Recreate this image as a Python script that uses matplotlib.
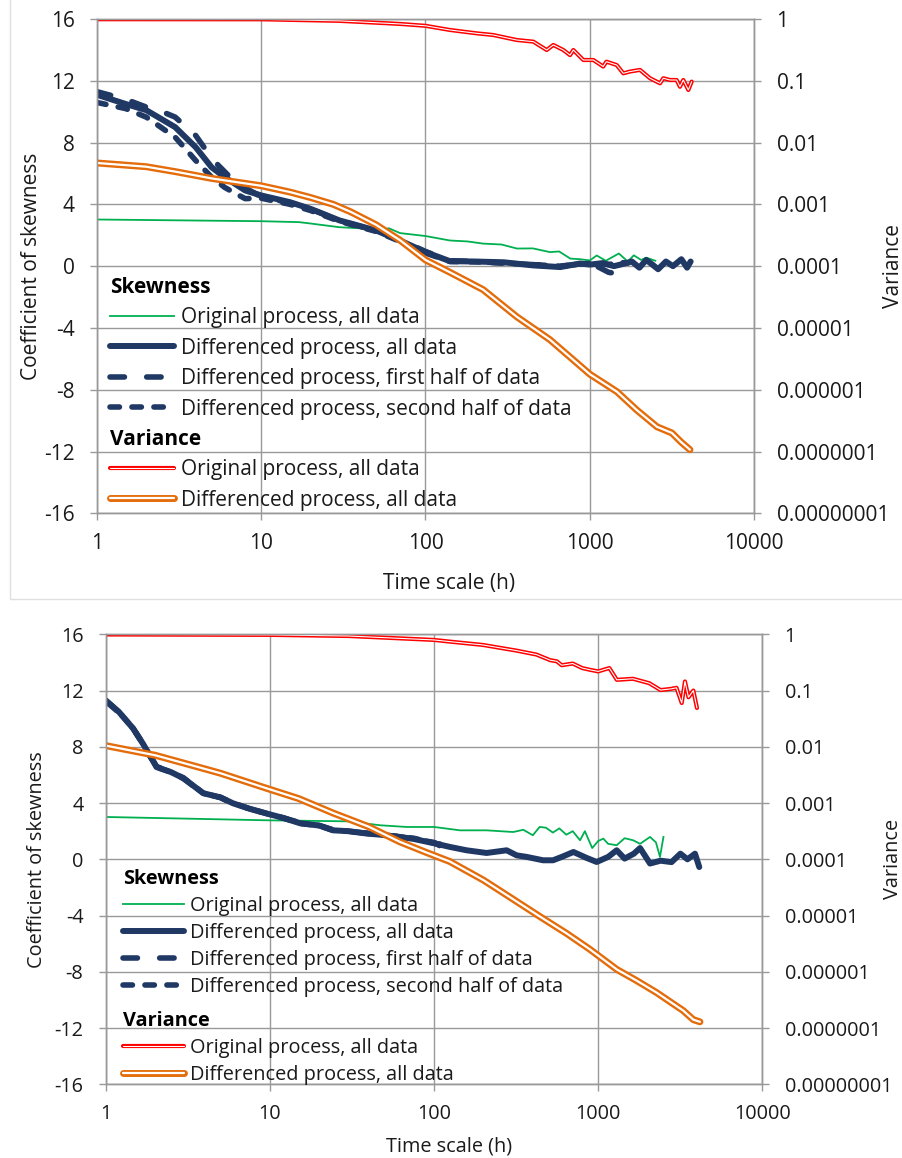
import matplotlib
matplotlib.use('Agg')
import matplotlib.pyplot as plt
import matplotlib.patheffects as pe
from matplotlib.patches import Rectangle

plt.rcParams['font.family'] = ['Open Sans', 'DejaVu Sans']
plt.rcParams['axes.unicode_minus'] = False

# ---- axes / labels ----
time_ticks = [1, 10, 100, 1000, 10000]
time_tick_labels = ['1', '10', '100', '1000', '10000']
skew_ticks = [-16, -12, -8, -4, 0, 4, 8, 12, 16]
var_ticks = [1e-8, 1e-7, 1e-6, 1e-5, 1e-4, 1e-3, 1e-2, 1e-1, 1]
var_tick_labels = ['0.00000001', '0.0000001', '0.000001', '0.00001', '0.0001',
                   '0.001', '0.01', '0.1', '1']
skew_labels = ['Original process, all data', 'Differenced process, all data',
               'Differenced process, first half of data',
               'Differenced process, second half of data']
var_labels = ['Original process, all data', 'Differenced process, all data']

# ---- top panel ----
top_green_t = [1, 10, 17, 20, 30, 40, 50, 60, 70, 100, 141, 180, 224, 290, 360, 450,
               571, 650, 760, 870, 1000, 1100, 1250, 1500, 1700, 1850, 2050, 2200, 2500]
top_green = [3.02, 2.91, 2.85, 2.76, 2.52, 2.45, 2.31, 2.45, 2.14, 1.95, 1.66, 1.6,
             1.46, 1.4, 1.14, 1.15, 0.91, 0.95, 0.49, 0.45, 0.37, 0.69, 0.35, 0.82,
             0.3, 0.7, 0.4, 0.55, 0.35]

top_navy_t = [1, 1.5, 2, 3, 4, 5, 6, 8, 10, 15, 20, 30, 50, 70, 100, 141, 200, 300,
              450, 660, 870, 1000, 1200, 1400, 1600, 1800, 2000, 2200, 2400, 2600,
              2900, 3200, 3600, 3900, 4100]
top_navy = [11.1, 10.5, 10.1, 9.0, 7.7, 6.4, 5.76, 4.9, 4.58, 4.14, 3.71, 2.96,
            2.31, 1.66, 0.91, 0.32, 0.3, 0.25, 0.05, -0.06, 0.17, 0.1, 0.2, 0.0,
            0.15, 0.3, -0.1, 0.4, 0.1, -0.2, 0.3, 0.0, 0.45, -0.1, 0.3]

top_first_t = [1, 1.5, 2, 2.5, 3, 4, 5, 5.5, 7, 10, 15, 20, 30, 50, 70, 100, 141,
               200, 300, 450, 660, 900, 1100, 1300, 1500, 1700]
top_first = [11.3, 10.8, 10.3, 10.0, 9.65, 8.46, 7.0, 6.52, 5.4, 4.5, 4.1, 3.7,
             2.95, 2.3, 1.7, 0.95, 0.35, 0.3, 0.2, 0.1, 0.0, 0.15, 0.0, -0.4, -0.5, -0.35]

top_second_t = [1, 1.5, 2, 3, 4, 5, 6, 7, 8, 10, 15, 20, 30, 50, 70, 100, 141, 200,
                300, 450, 660, 900, 1100, 1300, 1500, 1700]
top_second = [10.6, 10.2, 9.65, 8.35, 6.84, 5.76, 5.1, 4.7, 4.37, 4.4, 4.0, 3.6,
              2.9, 2.25, 1.6, 0.85, 0.3, 0.28, 0.2, 0.1, 0.0, 0.15, 0.2, 0.1, 0.25, 0.2]

top_red_t = [1, 10, 30, 70, 100, 141, 205, 258, 359, 453, 546, 599, 689, 757, 793,
             912, 1050, 1205, 1260, 1455, 1597, 1753, 2017, 2320, 2670, 2797, 3070,
             3370, 3530, 3700, 3970, 4160]
top_red = [0.991, 0.989, 0.933, 0.832, 0.776, 0.664, 0.586, 0.551, 0.457, 0.43,
           0.315, 0.38, 0.315, 0.26, 0.315, 0.217, 0.217, 0.17, 0.204, 0.18, 0.132,
           0.141, 0.15, 0.11, 0.091, 0.11, 0.103, 0.103, 0.08, 0.103, 0.071, 0.097]

top_orange_t = [1, 2, 3, 5, 10, 15, 20, 27.5, 35, 50, 70, 100, 141, 224, 360, 571,
                905, 1000, 1460, 1930, 2560, 3150, 3600, 4060]
top_orange = [4.68e-3, 4.07e-3, 3.39e-3, 2.63e-3, 2.0e-3, 1.58e-3, 1.29e-3, 1.0e-3,
              7.59e-4, 4.68e-4, 2.63e-4, 1.26e-4, 7.94e-5, 4.17e-5, 1.51e-5, 6.46e-6,
              2.24e-6, 1.78e-6, 9.3e-7, 4.68e-7, 2.51e-7, 2.0e-7, 1.41e-7, 1.07e-7]

# ---- bottom panel ----
bot_green_t = [1, 10, 30, 47, 68, 100, 144, 209, 304, 350, 400, 440, 480, 530, 580,
               640, 700, 776, 830, 920, 1000, 1075, 1150, 1297, 1450, 1637, 1800,
               2070, 2250, 2380, 2500]
bot_green = [3.01, 2.77, 2.7, 2.42, 2.3, 2.3, 2.06, 2.06, 1.94, 2.1, 1.71, 2.3, 2.25,
             1.9, 2.2, 1.75, 2.0, 1.35, 2.0, 0.8, 1.3, 1.47, 1.1, 1.0, 1.5, 1.35, 1.1,
             1.59, 1.2, 0.17, 1.59]

bot_navy_t = [1, 1.2, 1.47, 1.69, 2.04, 2.5, 2.97, 3.93, 5, 5.97, 7.5, 9.6, 12, 15.3,
              20, 24.3, 30, 39, 47, 62, 75, 100, 125, 158, 209, 277, 319, 367, 462,
              531, 600, 707, 850, 980, 1150, 1297, 1450, 1650, 1800, 2070, 2400, 2800,
              3170, 3500, 3890, 4130]
bot_navy = [11.3, 10.5, 9.3, 8.2, 6.56, 6.2, 5.77, 4.7, 4.4, 3.98, 3.6, 3.25, 2.95,
            2.56, 2.4, 2.06, 2.0, 1.83, 1.75, 1.59, 1.45, 1.14, 0.88, 0.64, 0.45, 0.64,
            0.28, 0.17, -0.07, -0.07, 0.17, 0.52, 0.1, -0.19, 0.17, 0.64, 0.05, 0.4,
            0.8, -0.3, -0.1, -0.2, 0.4, 0.0, 0.4, -0.55]

bot_first_t = [1, 1.2, 1.47, 1.69, 2.04, 2.5, 2.97, 3.93, 5, 5.97, 7.5, 9.6, 12, 15.3,
               20, 24.3, 30, 39, 47, 62, 75, 100, 115, 125]
bot_first = [11.25, 10.45, 9.3, 8.2, 6.6, 6.2, 5.75, 4.7, 4.4, 3.95, 3.6, 3.25, 2.95,
             2.6, 2.4, 2.1, 2.0, 1.85, 1.75, 1.6, 1.45, 1.2, 0.8, 0.5]

bot_second_t = [1, 1.2, 1.47, 1.69, 2.04, 2.5, 2.97, 3.93, 5, 5.97, 7.5, 9.6, 12, 15.3,
                20, 24.3, 30, 39, 47, 62, 75, 100, 125]
bot_second = [11.3, 10.5, 9.3, 8.2, 6.55, 6.2, 5.8, 4.7, 4.4, 4.0, 3.6, 3.25, 2.95,
              2.55, 2.4, 2.05, 2.0, 1.85, 1.75, 1.6, 1.5, 1.15, 0.95]

bot_red_t = [1, 10, 30, 100, 125, 199, 318, 420, 510, 560, 600, 700, 800, 890, 1000,
             1170, 1300, 1630, 2050, 2400, 2770, 3000, 3230, 3380, 3550, 3800, 4000]
bot_red = [0.993, 0.977, 0.933, 0.794, 0.741, 0.646, 0.513, 0.437, 0.347, 0.331,
           0.282, 0.302, 0.251, 0.234, 0.219, 0.251, 0.155, 0.162, 0.135, 0.102,
           0.107, 0.112, 0.060, 0.145, 0.076, 0.100, 0.049]

bot_orange_t = [1, 2, 3.76, 5, 9.6, 15, 24.4, 40, 62, 90, 125, 200, 282, 443, 644,
                890, 1300, 1700, 2270, 2800, 3300, 3800, 4170]
bot_orange = [0.0105, 0.00708, 0.00427, 0.00339, 0.00182, 1.2e-3, 6.61e-4, 3.8e-4,
              2.04e-4, 1.32e-4, 9.12e-5, 4.27e-5, 2.24e-5, 9.55e-6, 4.79e-6, 2.51e-6,
              1.1e-6, 7.08e-7, 4.27e-7, 2.82e-7, 2.04e-7, 1.41e-7, 1.29e-7]

GREEN = '#00b050'
NAVY = '#1f3864'
RED = '#ff0000'
ORANGE = '#e46c0a'
GRID = '#999999'
TEXT = '#1a1a1a'

W, H = 903, 1158


def draw_panel(fig, box, fs, series, label_pos, leg_pos, spacing):
    l, t, r, b = box
    ax = fig.add_axes([l / W, 1 - b / H, (r - l) / W, (b - t) / H])
    ax2 = ax.twinx()

    (g_t, g), (n_t, n), (f_t, f), (s_t, s), (r_t, rv), (o_t, o) = series
    ln_g, = ax.plot(g_t, g, color=GREEN, lw=1.3)
    ln_f, = ax.plot(f_t, f, color=NAVY, lw=4, dashes=(2.6, 4.0),
                    dash_capstyle='round')
    ln_s, = ax.plot(s_t, s, color=NAVY, lw=4, dashes=(1.7, 2.25),
                    dash_capstyle='round')
    ln_n, = ax.plot(n_t, n, color=NAVY, lw=4.3, solid_capstyle='round',
                    solid_joinstyle='round')

    # double lines: white core over a coloured stroke
    ln_r, = ax2.plot(r_t, rv, color='white', lw=0.8, solid_capstyle='round',
                     path_effects=[pe.Stroke(linewidth=3.0, foreground=RED),
                                   pe.Normal()])
    ln_o, = ax2.plot(o_t, o, color='white', lw=1.6, solid_capstyle='round',
                     path_effects=[pe.Stroke(linewidth=5.0, foreground=ORANGE),
                                   pe.Normal()])

    ax.set_xscale('log')
    ax.set_xlim(1, 10000)
    ax.set_ylim(-16, 16)
    ax.set_xticks(time_ticks, time_tick_labels)
    ax.set_yticks(skew_ticks)
    ax.minorticks_off()
    ax2.set_yscale('log')
    ax2.set_ylim(1e-8, 1)
    ax2.set_yticks(var_ticks, var_tick_labels)
    ax2.minorticks_off()

    ax.grid(True, color=GRID, lw=1.0)
    for a in (ax, ax2):
        for sp in a.spines.values():
            sp.set_color(GRID)
            sp.set_linewidth(1.0)
        a.tick_params(direction='out', length=5, width=1.0, color=GRID,
                      labelsize=fs, labelcolor=TEXT, pad=11)
    ax.tick_params(axis='x', pad=9)
    ax.set_axisbelow(True)

    ax.set_xlabel('Time scale (h)', fontsize=fs, color=TEXT)
    ax.set_ylabel('Coefficient of skewness', fontsize=fs, color=TEXT)
    ax2.set_ylabel('Variance', fontsize=fs, color=TEXT)
    ax.xaxis.set_label_coords(*label_pos[0])
    ax.yaxis.set_label_coords(*label_pos[1])
    ax2.yaxis.set_label_coords(*label_pos[2])

    common = dict(loc='upper left', frameon=False, alignment='left',
                  handlelength=3.1, handletextpad=0.3, labelspacing=spacing,
                  borderpad=0, borderaxespad=0, prop={'size': fs},
                  title_fontproperties={'weight': 'bold', 'size': fs})
    leg1 = ax2.legend([ln_g, ln_n, ln_f, ln_s], skew_labels, title='Skewness',
                      bbox_to_anchor=leg_pos[0], **common)
    for txt in leg1.get_texts():
        txt.set_color(TEXT)
    ax2.add_artist(leg1)
    leg2 = ax2.legend([ln_r, ln_o], var_labels, title='Variance',
                      bbox_to_anchor=leg_pos[1], **common)
    for txt in leg2.get_texts():
        txt.set_color(TEXT)
    return ax, ax2


fig = plt.figure(figsize=(W / 100, H / 100), dpi=100)

draw_panel(fig, (96.7, 19, 754.3, 513.3), 15,
           [(top_green_t, top_green), (top_navy_t, top_navy),
            (top_first_t, top_first), (top_second_t, top_second),
            (top_red_t, top_red), (top_orange_t, top_orange)],
           [(0.536, -0.121), (-0.083, 0.5), (1.196, 0.5)],
           [(0.02, 0.478), (0.02, 0.171)], 0.45)

draw_panel(fig, (105.7, 634.3, 762.3, 1084.3), 14.3,
           [(bot_green_t, bot_green), (bot_navy_t, bot_navy),
            (bot_first_t, bot_first), (bot_second_t, bot_second),
            (bot_red_t, bot_red), (bot_orange_t, bot_orange)],
           [(0.523, -0.115), (-0.089, 0.5), (1.184, 0.5)],
           [(0.026, 0.478), (0.026, 0.163)], 0.35)

# faint frame around the upper chart
fig.add_artist(Rectangle((10 / W, 1 - 599 / H), 1, 0.6, transform=fig.transFigure,
                         fill=False, edgecolor='#e0e0e0', lw=1))

fig.savefig('out.png', dpi=100)
plt.close(fig)
